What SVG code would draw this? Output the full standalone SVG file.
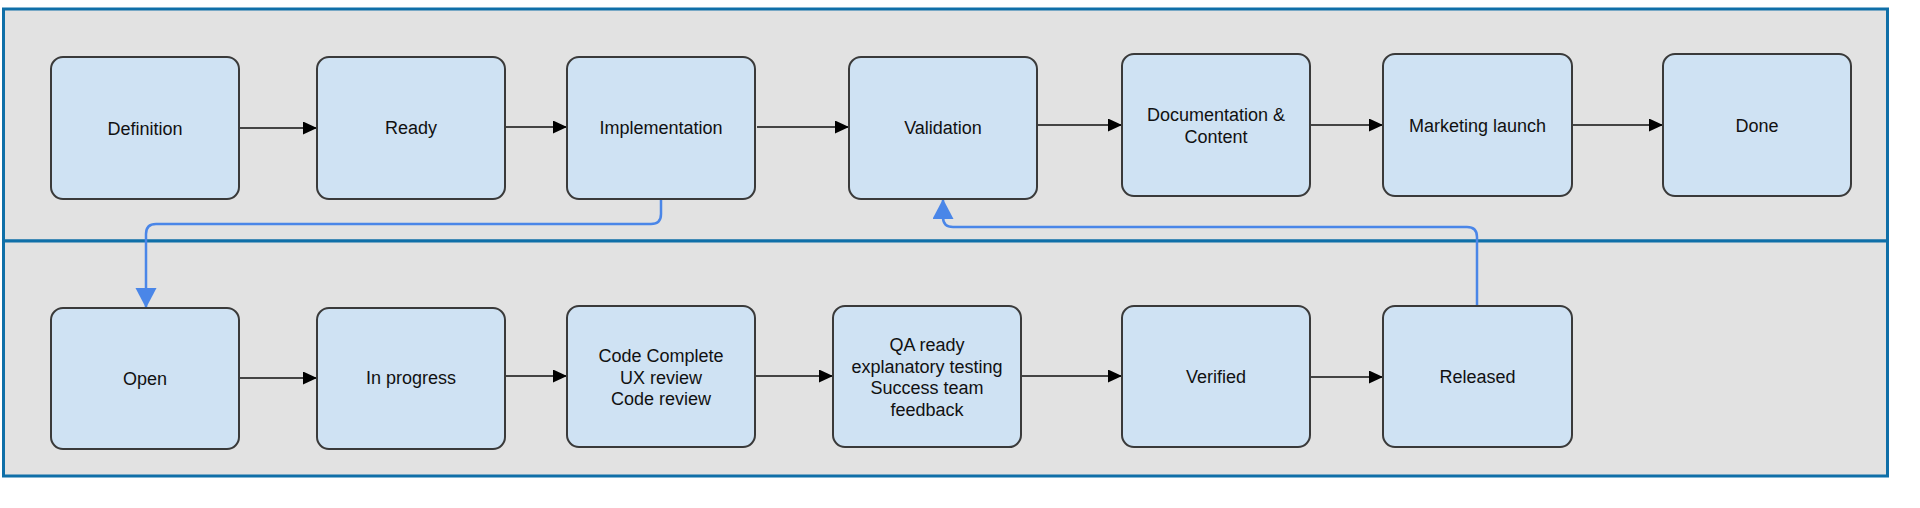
<svg xmlns="http://www.w3.org/2000/svg" width="1920" height="508" viewBox="0 0 1920 508">
<style>
.lane{fill:#e2e2e2;stroke:#0f6fa8;stroke-width:3}
.box{fill:#cfe2f3;stroke:#3a3a3a;stroke-width:2}
.lbl{font-family:"Liberation Sans",Arial,sans-serif;font-size:18px;fill:#111;text-anchor:middle}
.flow{fill:none;stroke:#444;stroke-width:2}
.back{fill:none;stroke:#4a86e8;stroke-width:2.5}
</style>
<defs>
<marker id="ah" markerUnits="userSpaceOnUse" markerWidth="14" markerHeight="14" refX="14" refY="6.5" orient="auto">
<path d="M0,0 L14,6.5 L0,13 Z" fill="#000"/>
</marker>
<marker id="bh" markerUnits="userSpaceOnUse" markerWidth="22" markerHeight="22" refX="20" refY="10.5" orient="auto">
<path d="M0,0 L20,10.5 L0,21 Z" fill="#4a86e8"/>
</marker>
</defs>
<rect fill="#fff" x="0" y="0" width="1920" height="508"/>
<g id="lanes">
<rect class="lane" x="3.5" y="9" width="1884" height="232"/>
<rect class="lane" x="3.5" y="241" width="1884" height="235"/>
</g>
<g id="connectors">
<path class="flow" d="M239 128 H317" marker-end="url(#ah)"/>
<path class="flow" d="M505 127 H567" marker-end="url(#ah)"/>
<path class="flow" d="M757 127 H849" marker-end="url(#ah)"/>
<path class="flow" d="M1036 125 H1122" marker-end="url(#ah)"/>
<path class="flow" d="M1310 125 H1383" marker-end="url(#ah)"/>
<path class="flow" d="M1572 125 H1663" marker-end="url(#ah)"/>
<path class="flow" d="M239 378 H317" marker-end="url(#ah)"/>
<path class="flow" d="M505 376 H567" marker-end="url(#ah)"/>
<path class="flow" d="M755 376 H833" marker-end="url(#ah)"/>
<path class="flow" d="M1021 376 H1122" marker-end="url(#ah)"/>
<path class="flow" d="M1310 377 H1383" marker-end="url(#ah)"/>
<path class="back" d="M661 199 V214 Q661 224 651 224 H156 Q146 224 146 234 V308" marker-end="url(#bh)"/>
<path class="back" d="M1477 306 V237 Q1477 227 1467 227 H953 Q943 227 943 217 V199" marker-end="url(#bh)"/>
</g>
<g id="definition"><rect class="box" x="51" y="57" width="188" height="142" rx="12"/><text class="lbl" x="145" y="134.5">Definition</text></g>
<g id="ready"><rect class="box" x="317" y="57" width="188" height="142" rx="12"/><text class="lbl" x="411" y="133.5">Ready</text></g>
<g id="implementation"><rect class="box" x="567" y="57" width="188" height="142" rx="12"/><text class="lbl" x="661" y="133.5">Implementation</text></g>
<g id="validation"><rect class="box" x="849" y="57" width="188" height="142" rx="12"/><text class="lbl" x="943" y="134">Validation</text></g>
<g id="documentation"><rect class="box" x="1122" y="54" width="188" height="142" rx="12"/><text class="lbl" x="1216" y="121">Documentation &amp;</text><text class="lbl" x="1216" y="142.5">Content</text></g>
<g id="marketing"><rect class="box" x="1383" y="54" width="189" height="142" rx="12"/><text class="lbl" x="1477.5" y="131.5">Marketing launch</text></g>
<g id="done"><rect class="box" x="1663" y="54" width="188" height="142" rx="12"/><text class="lbl" x="1757" y="131.5">Done</text></g>
<g id="open"><rect class="box" x="51" y="308" width="188" height="141" rx="12"/><text class="lbl" x="145" y="384.5">Open</text></g>
<g id="inprogress"><rect class="box" x="317" y="308" width="188" height="141" rx="12"/><text class="lbl" x="411" y="383.5">In progress</text></g>
<g id="codecomplete"><rect class="box" x="567" y="306" width="188" height="141" rx="12"/><text class="lbl" x="661" y="361.5">Code Complete</text><text class="lbl" x="661" y="383.5">UX review</text><text class="lbl" x="661" y="404.5">Code review</text></g>
<g id="qaready"><rect class="box" x="833" y="306" width="188" height="141" rx="12"/><text class="lbl" x="927" y="350.5">QA ready</text><text class="lbl" x="927" y="372.5">explanatory testing</text><text class="lbl" x="927" y="393.5">Success team</text><text class="lbl" x="927" y="415.5">feedback</text></g>
<g id="verified"><rect class="box" x="1122" y="306" width="188" height="141" rx="12"/><text class="lbl" x="1216" y="383">Verified</text></g>
<g id="released"><rect class="box" x="1383" y="306" width="189" height="141" rx="12"/><text class="lbl" x="1477.5" y="383">Released</text></g>
</svg>
